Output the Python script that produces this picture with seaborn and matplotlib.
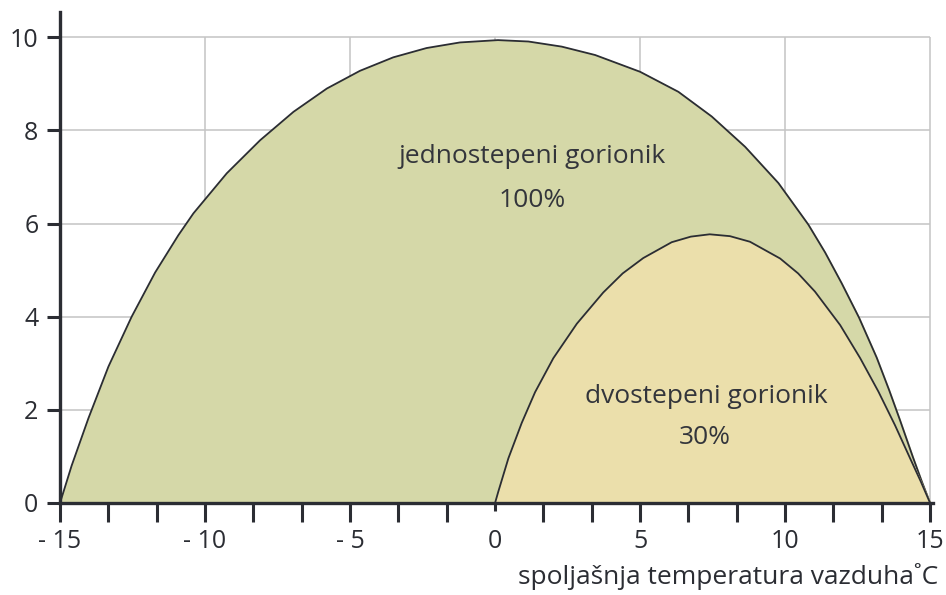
import pandas as pd
import seaborn as sns
import matplotlib.pyplot as plt

# values
temp_100 = [-15, -14.6, -14.02, -13.33, -12.53, -11.72, -10.92, -10.4, -9.25, -8.1,
            -6.95, -5.8, -4.66, -3.51, -2.36, -1.21, 0.1, 1.15, 2.3, 3.45,
            5.0, 6.32, 7.47, 8.62, 9.77, 10.8, 11.38, 11.95, 12.55, 13.16,
            13.59, 13.95, 14.41, 14.72, 15]
load_100 = [0, 0.8, 1.82, 2.93, 4.0, 4.95, 5.75, 6.22, 7.08, 7.79,
            8.4, 8.9, 9.28, 9.57, 9.77, 9.89, 9.94, 9.91, 9.8, 9.62,
            9.26, 8.83, 8.3, 7.65, 6.87, 5.98, 5.38, 4.72, 3.98, 3.12,
            2.42, 1.8, 0.98, 0.45, 0]

temp_30 = [0, 0.11, 0.46, 0.92, 1.38, 2.01, 2.82, 3.73, 4.4, 5.11, 6.09, 6.75, 7.4,
           8.1, 8.79, 9.83, 10.45, 11.03, 11.9, 12.59, 13.22, 13.79, 14.31, 14.68, 15]
load_30 = [0, 0.24, 0.96, 1.72, 2.38, 3.11, 3.85, 4.52, 4.93, 5.26, 5.6, 5.72, 5.77,
           5.73, 5.61, 5.25, 4.93, 4.54, 3.82, 3.11, 2.39, 1.67, 0.96, 0.46, 0]

x_labels = [-15, -10, -5, 0, 5, 10, 15]
x_label_text = ["- 15", "- 10", "- 5", "0", "5", "10", "15"]
x_minor = [-15 + i * 5 / 3 for i in range(19)]
y_ticks = [0, 2, 4, 6, 8, 10]

df_100 = pd.DataFrame({"t": temp_100, "q": load_100})
df_30 = pd.DataFrame({"t": temp_30, "q": load_30})

sns.set_theme(style="white")
plt.rcParams["font.family"] = ["Open Sans", "DejaVu Sans"]

dark = "#2b2d33"
fig = plt.figure(figsize=(9.46, 5.95), dpi=100)
ax = fig.add_axes([60 / 946, 92 / 595, 873 / 946, 491.3 / 595])

# grid limited to the data area
ax.hlines(y_ticks[1:], -15, 15, color="#c4c4c4", lw=1.1, zorder=0)
ax.vlines(x_labels[1:], 0, 10, color="#c4c4c4", lw=1.1, zorder=0)

ax.fill_between(df_100["t"], df_100["q"], color="#d5d8a8", zorder=1)
sns.lineplot(data=df_100, x="t", y="q", ax=ax, color=dark, lw=1.3, sort=False, zorder=2)
ax.fill_between(df_30["t"], df_30["q"], color="#ebdfab", zorder=3)
sns.lineplot(data=df_30, x="t", y="q", ax=ax, color=dark, lw=1.3, sort=False, zorder=4)

txt = dict(ha="center", va="center", fontsize=19, color="#33353b", zorder=5)
ax.text(1.27, 7.43, "jednostepeni gorionik", **txt)
ax.text(1.29, 6.5, "100%", **txt)
ax.text(7.3, 2.28, "dvostepeni gorionik", **txt)
ax.text(7.24, 1.4, "30%", **txt)

ax.set_xlim(-15, 15.1)
ax.set_ylim(0, 10.55)
ax.set_xticks(x_labels)
ax.set_xticklabels(x_label_text)
ax.set_xticks([v for v in x_minor if abs(v) > 0.01 and round(v, 3) not in x_labels], minor=True)
ax.set_yticks(y_ticks)
ax.set_xlabel("")
ax.set_ylabel("")

ax.tick_params(axis="x", which="both", direction="out", length=13.5, width=2.2,
               color=dark, bottom=True, labelsize=18, labelcolor="#2b2d33", pad=5)
ax.tick_params(axis="y", direction="out", length=9.5, width=2.2, color=dark,
               left=True, labelsize=18, labelcolor="#2b2d33", pad=6)
# zero tick is short and light in the original
ax.xaxis.get_major_ticks()[3].tick1line.set_markersize(6)
ax.xaxis.get_major_ticks()[3].tick1line.set_color("#777777")

for s in ["top", "right"]:
    ax.spines[s].set_visible(False)
for s in ["left", "bottom"]:
    ax.spines[s].set_color(dark)
    ax.spines[s].set_linewidth(2.4)
    ax.spines[s].set_zorder(6)

fig.text(938 / 946, 1 - 577 / 595, "spoljašnja temperatura vazduha˚C",
         ha="right", va="center", fontsize=19, color="#2b2d33")

fig.savefig("out.png", dpi=100)
